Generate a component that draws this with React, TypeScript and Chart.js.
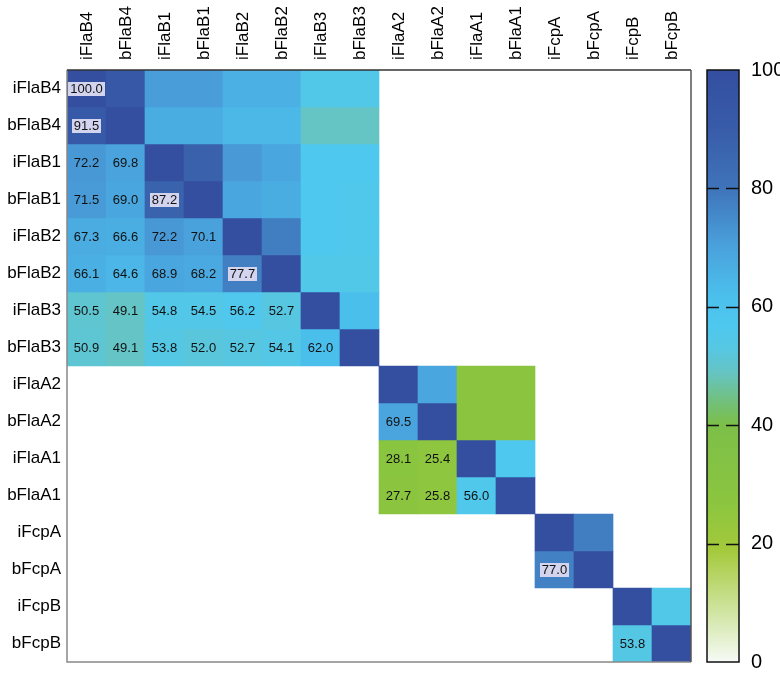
import React, { useEffect, useRef } from 'react';
import { Chart, registerables } from 'chart.js';

Chart.register(...registerables);

const labels = [
  'iFlaB4', 'bFlaB4', 'iFlaB1', 'bFlaB1', 'iFlaB2', 'bFlaB2', 'iFlaB3', 'bFlaB3',
  'iFlaA2', 'bFlaA2', 'iFlaA1', 'bFlaA1', 'iFcpA', 'bFcpA', 'iFcpB', 'bFcpB',
];

const N = null;
// Lower triangle: printed identity values; upper triangle: colour-only values
const rowIFlaB4 = [100, 93, 71, 71, 66, 66, 55, 55, N, N, N, N, N, N, N, N];
const rowBFlaB4 = [91.5, 100, 67, 67, 64, 64, 49, 49, N, N, N, N, N, N, N, N];
const rowIFlaB1 = [72.2, 69.8, 100, 88, 72, 69, 57, 57, N, N, N, N, N, N, N, N];
const rowBFlaB1 = [71.5, 69.0, 87.2, 100, 69, 67, 57, 56, N, N, N, N, N, N, N, N];
const rowIFlaB2 = [67.3, 66.6, 72.2, 70.1, 100, 78, 57, 56, N, N, N, N, N, N, N, N];
const rowBFlaB2 = [66.1, 64.6, 68.9, 68.2, 77.7, 100, 55, 55, N, N, N, N, N, N, N, N];
const rowIFlaB3 = [50.5, 49.1, 54.8, 54.5, 56.2, 52.7, 100, 62, N, N, N, N, N, N, N, N];
const rowBFlaB3 = [50.9, 49.1, 53.8, 52.0, 52.7, 54.1, 62.0, 100, N, N, N, N, N, N, N, N];
const rowIFlaA2 = [N, N, N, N, N, N, N, N, 100, 69, 28, 28, N, N, N, N];
const rowBFlaA2 = [N, N, N, N, N, N, N, N, 69.5, 100, 28, 28, N, N, N, N];
const rowIFlaA1 = [N, N, N, N, N, N, N, N, 28.1, 25.4, 100, 57, N, N, N, N];
const rowBFlaA1 = [N, N, N, N, N, N, N, N, 27.7, 25.8, 56.0, 100, N, N, N, N];
const rowIFcpA = [N, N, N, N, N, N, N, N, N, N, N, N, 100, 78, N, N];
const rowBFcpA = [N, N, N, N, N, N, N, N, N, N, N, N, 77.0, 100, N, N];
const rowIFcpB = [N, N, N, N, N, N, N, N, N, N, N, N, N, N, 100, 55];
const rowBFcpB = [N, N, N, N, N, N, N, N, N, N, N, N, N, N, 53.8, 100];

const matrix = [
  rowIFlaB4, rowBFlaB4, rowIFlaB1, rowBFlaB1, rowIFlaB2, rowBFlaB2, rowIFlaB3, rowBFlaB3,
  rowIFlaA2, rowBFlaA2, rowIFlaA1, rowBFlaA1, rowIFcpA, rowBFcpA, rowIFcpB, rowBFcpB,
];

// diagonal cells whose value is printed
const labelledDiagonal = [0];
const colorbarTicks = [0, 20, 40, 60, 80, 100];

const colorStops: [number, string][] = [
  [0, '#f6faf6'],
  [8, '#d2e6a6'],
  [19, '#a4c93b'],
  [26, '#8dc63f'],
  [40, '#7cbf48'],
  [44, '#72c07c'],
  [49, '#65c4c4'],
  [53, '#56c7e3'],
  [57, '#4ec8ef'],
  [62, '#4bbfec'],
  [70, '#4aa2dc'],
  [80, '#3f74ba'],
  [90, '#385ca9'],
  [100, '#344ea0'],
];

function hexToRgb(h: string) {
  const n = parseInt(h.slice(1), 16);
  return [(n >> 16) & 255, (n >> 8) & 255, n & 255];
}

function colorFor(v: number) {
  for (let i = 1; i < colorStops.length; i++) {
    const [v1, c1] = colorStops[i];
    const [v0, c0] = colorStops[i - 1];
    if (v <= v1) {
      const t = (v - v0) / (v1 - v0);
      const a = hexToRgb(c0);
      const b = hexToRgb(c1);
      const m = a.map((x, k) => Math.round(x + (b[k] - x) * t));
      return `rgb(${m[0]},${m[1]},${m[2]})`;
    }
  }
  return colorStops[colorStops.length - 1][1];
}

const FONT = 'Liberation Sans, Arial, Helvetica, sans-serif';

export default function App() {
  const ref = useRef<HTMLCanvasElement | null>(null);

  useEffect(() => {
    if (!ref.current) return;
    const datasets = matrix.map((row, r) => ({
      label: labels[r],
      data: row.map((v) => (v == null ? null : [r - 0.5, r + 0.5])),
      backgroundColor: row.map((v) => (v == null ? 'rgba(0,0,0,0)' : colorFor(v))),
      borderWidth: 0,
      borderSkipped: false,
      grouped: false,
      barPercentage: 1,
      categoryPercentage: 1,
    }));

    const overlay = {
      id: 'overlay',
      afterDatasetsDraw(chart: any) {
        const ctx = chart.ctx;
        const xs = chart.scales.x;
        const ys = chart.scales.y;
        ctx.save();
        ctx.font = `13px ${FONT}`;
        ctx.textAlign = 'center';
        ctx.textBaseline = 'middle';
        matrix.forEach((row, r) => {
          row.forEach((v, c) => {
            if (v == null) return;
            if (!(r > c || (r === c && labelledDiagonal.includes(r)))) return;
            const x = xs.getPixelForValue(c);
            const y = ys.getPixelForValue(r);
            const txt = v.toFixed(1);
            if (v > 75) {
              const w = ctx.measureText(txt).width;
              ctx.fillStyle = '#d3d5ef';
              ctx.fillRect(Math.round(x - w / 2 - 2), Math.round(y - 7), Math.round(w + 4), 14);
            }
            ctx.fillStyle = '#111';
            ctx.fillText(txt, x, y + 0.5);
          });
        });
        // frame
        const a = chart.chartArea;
        ctx.lineWidth = 1.5;
        ctx.strokeStyle = '#888';
        ctx.beginPath();
        ctx.moveTo(a.left, a.top);
        ctx.lineTo(a.left, a.bottom);
        ctx.lineTo(a.right, a.bottom);
        ctx.stroke();
        ctx.strokeStyle = '#333';
        ctx.beginPath();
        ctx.moveTo(a.left, a.top);
        ctx.lineTo(a.right, a.top);
        ctx.stroke();
        ctx.strokeStyle = '#555';
        ctx.beginPath();
        ctx.moveTo(a.right, a.top);
        ctx.lineTo(a.right, a.bottom);
        ctx.stroke();

        // colour bar
        const y2 = chart.scales.y2;
        const top = y2.getPixelForValue(100);
        const bot = y2.getPixelForValue(0);
        const x0 = a.right + 16;
        const bw = 32;
        const g = ctx.createLinearGradient(0, bot, 0, top);
        colorStops.forEach(([v, c]) => g.addColorStop(v / 100, c));
        ctx.fillStyle = g;
        ctx.fillRect(x0, top, bw, bot - top);
        ctx.strokeStyle = '#111';
        ctx.lineWidth = 1.5;
        ctx.strokeRect(x0, top, bw, bot - top);
        colorbarTicks.forEach((t) => {
          if (t === 0 || t === 100) return;
          const yy = Math.round(y2.getPixelForValue(t)) + 0.5;
          ctx.beginPath();
          ctx.moveTo(x0, yy);
          ctx.lineTo(x0 + 12, yy);
          ctx.moveTo(x0 + 19, yy);
          ctx.lineTo(x0 + bw, yy);
          ctx.stroke();
        });
        ctx.restore();
      },
    };

    const chart = new Chart(ref.current, {
      type: 'bar',
      data: { labels, datasets: datasets as any },
      options: {
        animation: false,
        responsive: false,
        maintainAspectRatio: false,
        layout: { padding: { left: 0, right: 0, top: 0, bottom: 11 } },
        plugins: { legend: { display: false }, tooltip: { enabled: false } },
        scales: {
          x: {
            type: 'category',
            position: 'top',
            offset: true,
            grid: { display: false, drawTicks: false },
            border: { display: false },
            ticks: {
              autoSkip: false,
              maxRotation: 90,
              minRotation: 90,
              padding: 10,
              labelOffset: 21,
              color: '#000',
              font: { family: FONT, size: 17 },
            },
            afterFit: (s: any) => {
              s.height = 70;
            },
          },
          y: {
            type: 'linear',
            position: 'left',
            reverse: true,
            min: -0.5,
            max: 15.5,
            grid: { display: false, drawTicks: false },
            border: { display: false },
            afterBuildTicks: (s: any) => {
              s.ticks = labels.map((_, i) => ({ value: i }));
            },
            ticks: {
              autoSkip: false,
              padding: 6,
              color: '#000',
              font: { family: FONT, size: 17 },
              callback: (v: any) => labels[v as number] ?? '',
            },
            afterFit: (s: any) => {
              s.width = 67;
              s.paddingTop = 0;
              s.paddingBottom = 0;
            },
          },
          y2: {
            type: 'linear',
            position: 'right',
            min: 0,
            max: 100,
            grid: { display: false, drawTicks: false },
            border: { display: false },
            afterBuildTicks: (s: any) => {
              s.ticks = colorbarTicks.map((v) => ({ value: v }));
            },
            ticks: {
              padding: 60,
              color: '#000',
              font: { family: FONT, size: 20 },
            },
            afterFit: (s: any) => {
              s.width = 89;
              s.paddingTop = 0;
              s.paddingBottom = 0;
            },
          },
        },
      },
      plugins: [overlay],
    });
    return () => chart.destroy();
  }, []);

  return (
    <div style={{ position: 'fixed', left: 0, top: 0, width: 780, height: 673, background: '#fff' }}>
      <canvas ref={ref} width={780} height={673} style={{ display: 'block', width: 780, height: 673 }} />
    </div>
  );
}
